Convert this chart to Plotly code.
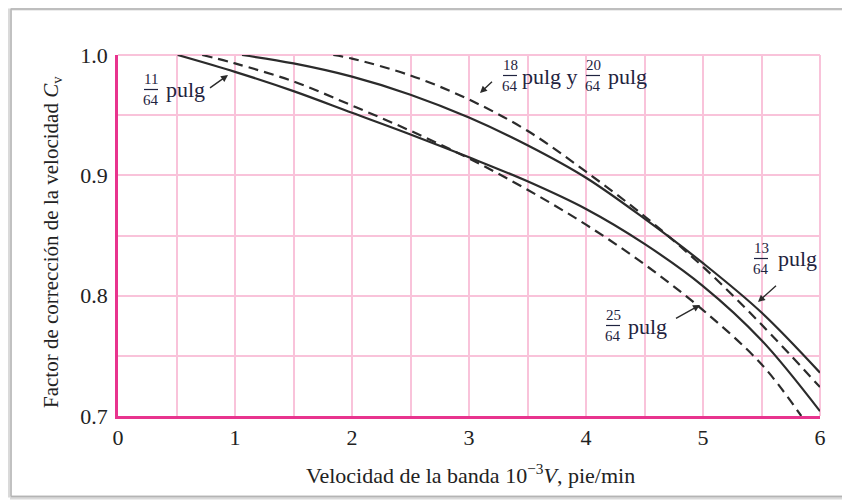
import plotly.graph_objects as go

# ---- data ----
x_11_64 = [0.51, 1.0, 1.5, 2.0, 2.5, 3.0, 3.5, 4.0, 4.5, 5.0, 5.5, 6.0]
y_11_64 = [1.0, 0.986, 0.970, 0.952, 0.934, 0.915, 0.895, 0.872, 0.843, 0.808, 0.763, 0.704]

x_25_64 = [0.72, 1.0, 1.5, 2.0, 2.5, 3.0, 3.5, 4.0, 4.5, 5.0, 5.5, 5.84]
y_25_64 = [1.0, 0.993, 0.978, 0.958, 0.937, 0.914, 0.888, 0.859, 0.826, 0.788, 0.743, 0.70]

x_13_64 = [1.06, 1.5, 2.0, 2.5, 3.0, 3.5, 4.0, 4.5, 5.0, 5.5, 6.0]
y_13_64 = [1.0, 0.993, 0.982, 0.967, 0.948, 0.925, 0.898, 0.864, 0.827, 0.786, 0.736]

x_18_64 = [1.84, 2.0, 2.5, 3.0, 3.5, 4.0, 4.5, 5.0, 5.5, 6.0]
y_18_64 = [1.0, 0.997, 0.983, 0.963, 0.937, 0.903, 0.866, 0.824, 0.776, 0.724]

x_ticks = [0, 1, 2, 3, 4, 5, 6]
y_ticks = [0.7, 0.8, 0.9, 1.0]

# ---- style ----
SERIF = "Liberation Serif, Times New Roman, serif"
PINK = "#f9c3da"
MAG = "#e8348e"
INK = "#2b2b2b"
LBL = "#1f2340"

W, H = 850, 501
OFF = 8  # page body margin
ML, MR, MT, MB = 110, 38, 47, 93
PW, PH = W - ML - MR, H - MT - MB


def PX(px):  # screen pixel -> paper x
    return (px - OFF - ML) / PW


def PY(py):  # screen pixel -> paper y
    return (H - MB - (py - OFF)) / PH


fig = go.Figure()
series = [
    (x_11_64, y_11_64, "solid"),
    (x_25_64, y_25_64, "10px,6px"),
    (x_13_64, y_13_64, "solid"),
    (x_18_64, y_18_64, "10px,6px"),
]
for xs, ys, dash in series:
    fig.add_trace(go.Scatter(
        x=xs, y=ys, mode="lines",
        line=dict(color=INK, width=2.2, dash=dash, shape="spline", smoothing=1.0),
        showlegend=False, hoverinfo="skip",
    ))

shapes = []
# pink top/right plot edges
shapes.append(dict(type="line", xref="paper", yref="paper", x0=0, x1=1, y0=1, y1=1,
                   line=dict(color=PINK, width=2), layer="below"))
shapes.append(dict(type="line", xref="paper", yref="paper", x0=1, x1=1, y0=0, y1=1,
                   line=dict(color=PINK, width=2), layer="below"))


def frame(left, top, bottom, col, wd):
    shapes.append(dict(type="line", xref="paper", yref="paper",
                       x0=PX(left), x1=PX(left), y0=PY(top), y1=PY(bottom), line=dict(color=col, width=wd)))
    shapes.append(dict(type="line", xref="paper", yref="paper",
                       x0=PX(left), x1=PX(880), y0=PY(top), y1=PY(top), line=dict(color=col, width=wd)))
    shapes.append(dict(type="line", xref="paper", yref="paper",
                       x0=PX(left), x1=PX(880), y0=PY(bottom), y1=PY(bottom), line=dict(color=col, width=wd)))


frame(10, 8.5, 497.5, "#dadada", 4)
frame(11, 9, 496.5, "#b4b4b4", 1.3)

annotations = []


def fraction(num, den, cx, num_y, bar_y, den_y, halfw=7):
    for t, yy in ((num, num_y), (den, den_y)):
        annotations.append(dict(text=t, xref="paper", yref="paper", x=PX(cx), y=PY(yy),
                                showarrow=False, font=dict(family=SERIF, size=15, color=LBL),
                                xanchor="center", yanchor="middle"))
    shapes.append(dict(type="line", xref="paper", yref="paper",
                       x0=PX(cx - halfw), x1=PX(cx + halfw), y0=PY(bar_y), y1=PY(bar_y),
                       line=dict(color=LBL, width=1.2)))


def word(text, left_x, mid_y):
    annotations.append(dict(text=text, xref="paper", yref="paper", x=PX(left_x), y=PY(mid_y),
                            showarrow=False, font=dict(family=SERIF, size=22, color=LBL),
                            xanchor="left", yanchor="middle"))


def arrow(tip, tail):
    annotations.append(dict(text=" ", xref="paper", yref="paper", x=PX(tip[0]), y=PY(tip[1]),
                            ax=tail[0] - tip[0], ay=tail[1] - tip[1], showarrow=True,
                            arrowhead=2, arrowsize=1.0, arrowwidth=1.4, arrowcolor=INK))


# 11/64 pulg
fraction("11", "64", 151, 79, 89.5, 100)
word("pulg", 164, 90)
arrow((228, 75), (207, 90))
# 18/64 pulg y 20/64 pulg
fraction("18", "64", 510, 65, 75.5, 86)
word("pulg y", 520, 76)
fraction("20", "64", 593, 65, 75.5, 86)
word("pulg", 606, 76)
arrow((480, 93), (495, 79))
# 13/64 pulg
fraction("13", "64", 761, 248, 258.5, 269)
word("pulg", 776, 259)
arrow((758, 302), (779, 283))
# 25/64 pulg
fraction("25", "64", 613, 315, 325.5, 336)
word("pulg", 626, 326)
arrow((700, 305), (673, 320))

# axis titles
annotations.append(dict(text="Velocidad de la banda 10<sup>\u22123</sup><i>V</i>, pie/min",
                        xref="paper", yref="paper", x=PX(471), y=PY(474), showarrow=False,
                        font=dict(family=SERIF, size=22, color="#222"),
                        xanchor="center", yanchor="middle"))
annotations.append(dict(text="Factor de corrección de la velocidad <i>C</i><sub>v</sub>",
                        xref="paper", yref="paper", x=PX(52), y=PY(242), showarrow=False,
                        textangle=-90, font=dict(family=SERIF, size=21, color="#222"),
                        xanchor="center", yanchor="middle"))

fig.update_layout(
    width=W, height=H, autosize=False,
    margin=dict(l=ML, r=MR, t=MT, b=MB),
    paper_bgcolor="white", plot_bgcolor="white",
    shapes=shapes, annotations=annotations,
    xaxis=dict(range=[0, 6], tickvals=x_ticks, ticktext=[str(v) for v in x_ticks],
               showgrid=True, gridcolor=PINK, gridwidth=1.5,
               minor=dict(tick0=0, dtick=0.5, showgrid=True, gridcolor=PINK, gridwidth=1.5),
               showline=True, linecolor=MAG, linewidth=3, zeroline=False, ticks="",
               tickfont=dict(family=SERIF, size=22, color="#222"), ticklabelstandoff=0),
    yaxis=dict(range=[0.7, 1.0], tickvals=y_ticks, ticktext=["%.1f" % v for v in y_ticks],
               showgrid=True, gridcolor=PINK, gridwidth=1.5,
               minor=dict(tick0=0.7, dtick=0.05, showgrid=True, gridcolor=PINK, gridwidth=1.5),
               showline=True, linecolor=MAG, linewidth=2.5, zeroline=False, ticks="",
               tickfont=dict(family=SERIF, size=22, color="#222"), ticklabelstandoff=3),
)

fig.write_html("out.html")
